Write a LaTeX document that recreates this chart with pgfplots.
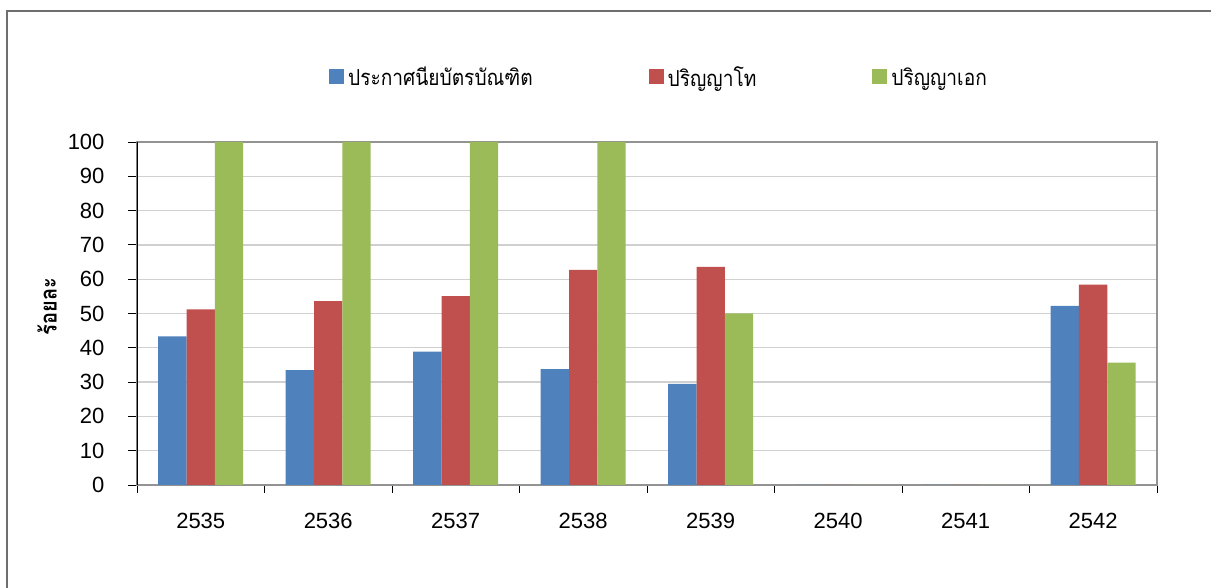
\documentclass[border=0pt]{standalone}
\usepackage{pgfplots}
\pgfplotsset{compat=1.18}
\usepackage{pgfplotstable}
\usepackage{fontspec}
\setmainfont{Liberation Sans}
\newfontfamily\thaifont[Script=Thai, FakeStretch=0.87]{Loma}

\definecolor{cblue}{HTML}{4F81BD}
\definecolor{cred}{HTML}{C0504D}
\definecolor{cgreen}{HTML}{9BBB59}
\definecolor{gridgray}{HTML}{D0D0D0}
\definecolor{framegray}{HTML}{6E6E6E}

% year index, diploma, master, doctorate (percent)
\pgfplotstableread{
x  dip   ma    phd
0  43.3  51.2  100
1  33.5  53.6  100
2  38.9  55.1  100
3  33.8  62.7  100
4  29.5  63.6  50.0
5  0     0     0
6  0     0     0
7  52.2  58.4  35.7
}\datatable

\begin{document}
\begin{tikzpicture}
\useasboundingbox (0,0) rectangle (1211pt,588pt);
\clip (0,0) rectangle (1211pt,588pt);
\draw[framegray, line width=1.5pt] (7pt,-10pt) -- (7pt,577pt) -- (1230pt,577pt);
\begin{axis}[
    at={(137pt,103pt)}, anchor=south west,
    scale only axis,
    width=1020pt, height=343pt,
    ybar=0pt,
    bar width=28.33pt,
    xmin=-0.5, xmax=7.5,
    ymin=0, ymax=100,
    xtick={0,...,7},
    xticklabels={2535,2536,2537,2538,2539,2540,2541,2542},
    minor xtick={-0.5,0.5,...,7.5},
    ytick={0,10,...,100},
    xtick pos=lower, ytick pos=left,
    tick align=outside,
    major tick length=9pt,
    minor tick length=8pt,
    x tick style={draw=none},
    minor x tick style={draw=black, line width=0.8pt},
    y tick style={draw=black, line width=0.8pt},
    ymajorgrids,
    major grid style={gridgray, line width=1.3pt},
    axis line style={draw=gray!85, line width=1.8pt},
    ticklabel style={font=\fontsize{22}{26}\selectfont},
    /pgf/number format/assume math mode=true,
    xticklabel style={yshift=-16pt},
    yticklabel style={xshift=-20pt},
    ylabel={\thaifont\bfseries ร้อยละ},
    ylabel style={at={(rel axis cs:-0.0882,0.52)}, anchor=center, rotate=0,
                  font=\fontsize{23}{27}\selectfont},
    legend columns=3,
    legend style={at={(rel axis cs:0.1882,1.1895)}, anchor=west,
        draw=none, fill=none, inner sep=0pt,
        font=\thaifont\fontsize{22}{26}\selectfont,
        /tikz/every odd column/.style={column sep=2pt},
        /tikz/every even column/.style={column sep=114pt}},
    legend image code/.code={\fill[#1] (0pt,-7.5pt) rectangle (15pt,7.5pt);},
]
\addplot[fill=cblue, draw=none] table[x=x, y=dip] {\datatable};
\addplot[fill=cred, draw=none] table[x=x, y=ma] {\datatable};
\addplot[fill=cgreen, draw=none] table[x=x, y=phd] {\datatable};
\legend{ประกาศนียบัตรบัณฑิต, ปริญญาโท, ปริญญาเอก}
\draw[black, line width=1.5pt] (rel axis cs:0,0) -- (rel axis cs:0,1);
\end{axis}
\end{tikzpicture}
\end{document}
